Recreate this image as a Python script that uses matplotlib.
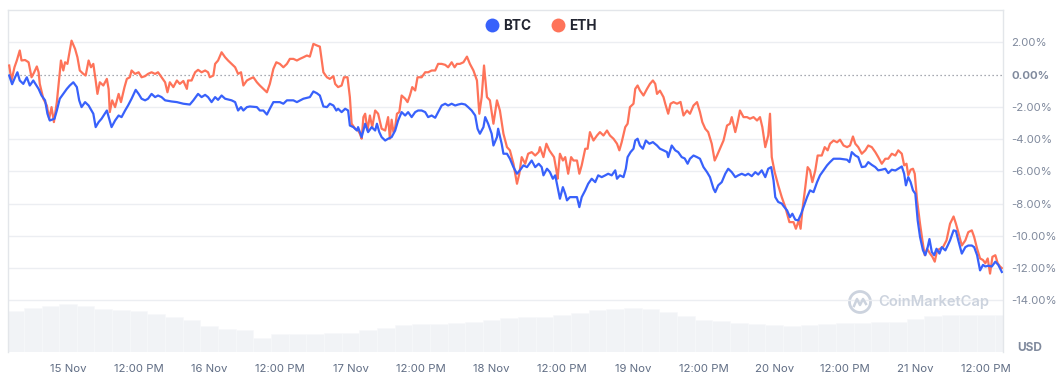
import numpy as np
import matplotlib
matplotlib.use("Agg")
import matplotlib.pyplot as plt
from matplotlib.lines import Line2D
from matplotlib.patches import Ellipse

# ---------------- data ----------------
# hours relative to 15 Nov 00:00
btc_t = [-10.0, -9.5, -9.0, -8.6, -8.2, -7.6, -7.0, -6.5, -5.9, -5.0, -4.5, -3.9, -3.5, -3.1, -2.3, -1.9,
         -1.4, -0.8, -0.2, 0.3, 0.9, 1.5, 1.9, 2.3, 2.9, 3.5, 4.3, 4.7, 5.2, 5.7, 6.6, 7.0, 7.4, 8.0, 8.6,
         9.1, 9.7, 10.2, 10.8, 11.5, 12.0, 12.5, 13.1, 13.6, 14.2, 14.8, 15.3, 15.9, 16.5, 17.6,
         18.5, 19.6, 20.7, 21.3, 22.1, 22.7, 23.3, 23.8, 24.4, 25.0, 25.5, 26.1, 26.7, 27.8, 28.4, 28.9,
         29.4, 29.8, 30.4, 30.9, 32.1, 32.6, 33.2, 33.8, 34.3, 34.9, 36.0, 36.6, 37.2, 38.3, 38.9, 40.0,
         41.1, 41.7, 42.3, 42.8, 43.4, 44.0, 44.5, 45.1, 45.6,
         45.9, 46.5, 47.1, 47.6, 47.9, 48.5, 49.1, 49.3, 49.9, 50.5, 51.0, 51.6, 52.2, 52.5, 52.9, 53.3,
         53.9, 54.4, 55.0, 55.6, 56.1, 56.7, 57.3, 57.8, 58.4, 59.0, 59.5, 60.1, 60.7, 61.2, 61.8, 62.4,
         62.9, 63.5, 64.1, 64.6, 65.2, 65.8, 66.3, 66.9, 67.5, 68.0, 68.6, 69.2, 69.6, 70.0, 70.6, 70.9,
         71.4, 72.0, 72.3, 72.9, 73.1, 73.7, 74.0,
         74.6, 75.1, 75.7, 76.3, 76.8, 77.4, 78.0, 78.8, 79.4, 80.0, 80.5, 80.8, 81.4, 81.9, 82.4, 82.8,
         83.2, 83.6, 84.1, 84.5, 84.8, 85.3, 86.5, 86.9, 87.3, 87.9, 88.4, 89.0, 89.6, 90.1, 90.7, 91.3,
         91.8, 92.4, 93.0, 93.3, 93.8, 94.4, 94.8, 95.1, 95.6, 96.1, 96.4, 96.8, 97.2, 97.7, 98.2, 98.8,
         99.4, 100.1, 100.6, 101.2, 101.8, 102.0,
         102.6, 103.2, 103.7, 104.3, 104.8, 105.3, 105.7, 106.3, 106.9, 107.4, 108.0, 108.6, 109.1, 109.7,
         110.0, 110.5, 111.1, 111.7, 112.2, 112.8, 113.4, 113.9, 114.5, 115.1, 115.6, 116.2, 116.8, 117.3,
         117.9, 118.5, 119.0, 119.5, 119.9, 120.2, 120.7, 121.3, 121.7, 122.2, 122.7, 123.1, 123.6, 124.1,
         124.6, 125.0, 125.6, 126.1, 126.7, 127.3, 127.8, 128.4, 129.0, 129.5,
         130.1, 131.2, 132.4, 132.8, 133.2, 133.8, 134.3, 134.9, 135.5, 136.0, 136.6, 137.2, 137.7, 138.3,
         138.9, 139.4, 140.0, 140.6, 141.1, 141.7, 142.1, 142.4, 142.8, 143.2, 143.6, 144.0, 144.4, 144.8,
         145.3, 145.7, 146.1, 146.4, 146.8, 147.2, 147.6, 148.1, 148.5, 149.1, 149.5, 149.9, 150.5, 150.9,
         151.3, 151.9, 152.5, 153.0, 153.6, 154.0, 154.5, 155.0, 155.5, 155.9, 156.4, 157.0, 157.6, 158.1,
         158.7]
btc_v = [-0.06, -0.6, -0.17, 0.14, -0.37, -0.58, -0.17, -0.68, -0.37, -0.89, -1.3, -1.6, -2.43, -2.85, -2.74, -2.23,
         -1.5, -1.2, -0.89, -0.68, -0.48, -0.78, -1.6, -2.02, -1.71, -1.92, -2.43, -3.26, -2.95, -2.74, -2.23, -2.74, -3.26, -2.85, -2.54,
         -2.64, -2.23, -1.92, -1.5, -0.95, -1.2, -1.5, -1.6, -1.5, -1.2, -1.4, -1.3, -1.4, -1.6, -1.67,
         -1.71, -1.81, -1.86, -1.6, -1.2, -1.4, -1.26, -1.4, -1.71, -1.4, -1.57, -1.3, -1.5, -1.6, -1.71, -2.23,
         -2.02, -2.23, -2.02, -1.98, -2.02, -2.23, -2.23, -2.48, -2.12, -1.71, -1.71, -1.81, -1.6, -1.6, -1.71, -1.5,
         -1.4, -1.05, -1.16, -1.3, -1.98, -2.02, -1.81, -1.92, -2.23,
         -2.12, -2.33, -2.12, -2.23, -3.16, -3.26, -3.47, -3.26, -3.88, -3.05, -3.57, -3.26, -3.47, -3.05, -3.57, -3.88,
         -4.09, -3.98, -3.88, -3.47, -2.85, -2.33, -2.54, -2.33, -2.64, -2.33, -2.23, -2.23, -2.33, -2.64, -2.54, -2.68,
         -2.33, -1.92, -1.81, -1.92, -1.81, -1.92, -1.86, -1.81, -1.86, -2.02, -2.23, -2.54, -3.36, -3.67, -3.26, -2.64,
         -3.05, -3.67, -4.4, -3.88, -3.36, -4.29, -4.91,
         -4.91, -5.22, -5.74, -6.15, -5.94, -5.63, -5.74, -5.33, -5.74, -5.53, -5.74, -6.25, -5.84, -6.05, -6.46, -6.25,
         -6.98, -7.7, -6.98, -7.39, -7.8, -7.6, -7.6, -8.22, -7.6, -7.18, -6.77, -6.46, -6.67, -6.25, -6.36, -6.25,
         -6.15, -6.25, -5.94, -6.46, -6.25, -6.36, -5.84, -5.12, -4.81, -4.6, -4.09, -3.98, -4.4, -4.6, -4.09, -4.29,
         -4.19, -4.4, -4.6, -4.7, -4.81, -5.12,
         -4.4, -4.7, -4.81, -5.12, -5.2, -5.53, -5.22, -5.02, -5.12, -5.22, -5.74, -6.05, -6.36, -7.08,
         -7.29, -6.87, -6.67, -6.15, -5.84, -6.05, -6.36, -6.25, -6.15, -6.25, -6.15, -6.3, -6.05, -6.2,
         -5.94, -6.36, -5.84, -5.74, -6.56, -7.6, -7.9, -8.0, -8.2, -8.42, -8.84, -8.63, -9.0, -9.04,
         -8.63, -8.22, -7.6, -7.18, -7.29, -6.67, -6.25, -5.94, -5.63, -5.43,
         -5.22, -5.22, -5.28, -5.43, -4.81, -5.02, -5.12, -5.74, -5.7, -5.43, -5.6, -5.74, -5.94, -5.9,
         -5.84, -6.11, -5.9, -5.95, -5.84, -5.7, -6.15, -6.87, -6.36, -6.67, -7.18, -7.39, -9.04, -10.07,
         -10.9, -11.2, -10.7, -10.2, -11.0, -11.2, -10.8, -11.1, -10.7, -10.9, -10.6, -10.28, -9.66, -9.7,
         -10.28, -11.1, -10.7, -10.6, -10.6, -10.7, -11.2, -12.14, -11.8, -11.9, -11.85, -11.9, -11.6, -11.8,
         -12.24]

eth_t = [-10.0, -9.6, -9.1, -8.7, -8.2, -7.9, -7.3, -6.7, -6.2, -5.8, -5.3, -5.0, -4.8, -4.2, -3.6, -3.2,
         -2.8, -2.4, -1.9, -1.5, -1.2, -0.8, -0.5, -0.1, 0.2, 0.6, 1.2, 1.6, 2.0, 2.6, 3.0, 3.5, 3.9, 4.3,
         4.7, 5.0, 5.4, 6.0, 6.6, 6.9, 7.1, 7.5, 8.0, 8.6, 9.0, 9.6, 10.0, 10.5, 10.8, 11.4, 12.0, 12.5,
         13.1, 13.6, 14.2, 14.8, 15.3, 15.9, 16.5, 16.9, 17.3, 17.9, 18.5, 19.0, 19.6, 20.2, 20.4, 21.0,
         21.6, 22.1, 22.7, 23.3, 23.8, 24.1, 24.7, 25.0, 25.5, 26.1, 26.7, 27.2, 27.8, 28.4, 28.9, 29.4,
         29.8, 30.4, 30.9, 31.5, 32.1, 32.6, 33.2, 33.8, 34.3, 34.9, 35.4, 36.0, 36.6, 37.2, 37.7, 38.3,
         38.9, 39.4, 40.0, 40.6, 41.1, 41.7, 42.3, 42.8, 43.4, 44.0, 44.5, 45.1, 45.4,
         45.9, 46.5, 46.9, 47.5, 47.9, 48.2, 48.8, 49.3, 49.6, 49.9, 50.2, 50.5, 50.9, 51.3, 51.7, 52.2,
         52.7, 53.3, 53.9, 54.4, 54.7, 55.0, 55.3, 55.6, 55.9, 56.3, 56.7, 57.3, 57.7, 58.1, 58.5, 59.0,
         59.4, 60.1, 60.7, 61.2, 61.8, 62.4, 62.9, 63.5, 64.1, 64.6, 65.2, 65.7, 66.1, 66.6, 67.2, 67.8,
         68.3, 68.9, 69.5, 69.9, 70.3, 70.7, 71.2, 71.7, 72.3, 72.9, 73.4, 74.0,
         74.6, 75.1, 75.7, 76.3, 76.7, 77.1, 77.7, 78.2, 78.8, 79.4, 80.0, 80.2, 80.8, 81.3, 81.8, 82.2,
         82.6, 83.0, 83.2, 83.6, 84.1, 84.5, 85.0, 85.5, 85.9, 86.5, 86.9, 87.3, 87.9, 88.3, 88.7, 89.3,
         89.9, 90.4, 91.0, 91.6, 92.1, 92.7, 93.3, 93.7, 94.1, 94.7, 95.1, 95.5, 96.1, 96.4, 96.8, 97.2,
         97.8, 98.4, 98.9, 99.4, 99.8, 100.1, 100.6, 101.2, 101.5, 102.0,
         102.4, 102.9, 103.5, 104.1, 104.6, 105.2, 105.7, 106.3, 106.9, 107.4, 107.8, 108.3, 108.8, 109.4,
         109.9, 110.3, 110.8, 111.4, 112.0, 112.5, 112.8, 113.4, 113.8, 114.2, 114.8, 115.4, 115.9, 116.5,
         117.1, 117.6, 118.0, 118.5, 119.0, 119.3, 119.6, 120.1, 120.7, 121.3, 121.9, 122.6, 123.3, 123.7,
         124.2, 124.5, 124.8, 125.3, 125.7, 126.1, 126.5, 127.0, 127.4, 128.1, 128.6, 129.1, 129.5,
         130.1, 130.7, 131.2, 131.8, 132.4, 132.9, 133.4, 133.8, 134.3, 134.9, 135.5, 136.0, 136.6, 137.2,
         137.7, 138.3, 138.9, 139.4, 140.0, 140.6, 141.1, 141.7, 142.1, 142.5, 142.8, 143.2, 143.6, 143.9,
         144.3, 144.8, 145.2, 145.6, 146.0, 146.5, 146.9, 147.3, 147.7, 148.2, 148.7, 149.3, 149.9, 150.5,
         150.9, 151.3, 151.9, 152.5, 153.0, 153.6, 154.0, 154.5, 155.0, 155.5, 155.9, 156.3, 156.7, 157.1,
         157.6, 158.0, 158.4, 158.7]
eth_v = [0.56, -0.37, 0.45, 0.87, 1.49, 0.87, 0.9, 0.76, -0.17, 0.1, 0.5, 0.14, -0.58, -1.5, -1.92, -2.74,
         -2.02, -2.95, -1.71, -0.27, 0.87, 0.25, 0.76, 0.66, 1.28, 2.1, 1.59, 1.07, 0.25, 0.04, -0.06, 0.87, 0.45, 0.66,
         -0.37, -1.2, -0.48, -0.68, -0.27, -0.9, -2.33, -1.6, -2.02, -1.2, -1.71, -0.78, -0.27, -0.17, 0.25, 0.04, 0.14, -0.17,
         -0.1, 0.04, 0.14, 0.04, 0.14, -0.17, -0.48, -1.1, -0.48, -0.78, -0.37, -0.58, -0.4, -0.89, -0.37, -0.37,
         0.14, 0.29, 0.14, 0.25, 0.14, -0.17, -0.06, 0.66, 0.87, 1.38, 1.07, 0.87, 0.66, 0.45, 0.04, 0.14,
         -0.68, -0.37, -0.27, -0.17, -0.48, -0.68, -0.89, -1.1, -0.58, 0.35, 0.76, 0.66, 0.45, 0.66, 0.97, 0.97,
         0.87, 0.97, 1.07, 1.18, 1.11, 1.9, 1.8, 1.73, 0.14, -0.17, -0.27, -0.1, -0.58,
         -0.78, -0.68, -0.17, -0.17, -1.4, -3.05, -3.36, -3.47, -3.67, -3.98, -2.64, -2.43, -3.47, -2.54, -3.26, -2.23,
         -2.43, -3.36, -3.47, -2.64, -3.98, -2.8, -3.57, -3.26, -2.43, -2.33, -1.3, -1.5, -1.71, -1.3, -0.78, -0.99,
         -0.17, -0.17, 0.14, 0.14, 0.25, 0.25, 0.66, 0.66, 0.6, 0.45, 0.76, 0.45, 0.66, 0.66, 0.76, 1.11,
         0.66, 0.25, -0.37, -2.43, -1.4, 0.56, -1.4, -1.6, -3.05, -1.6, -2.23, -3.67,
         -4.5, -4.7, -5.53, -6.77, -6.15, -5.12, -5.53, -4.91, -4.81, -5.02, -4.8, -4.5, -5.12, -4.29, -4.7, -4.91,
         -5.12, -5.94, -6.46, -4.91, -5.33, -5.12, -6.15, -5.12, -5.33, -5.33, -6.15, -5.63, -4.6, -4.6, -3.57, -4.09,
         -3.78, -3.57, -3.78, -3.47, -3.78, -3.98, -4.29, -4.7, -4.19, -3.26, -3.05, -2.02, -1.81, -0.89, -0.68, -0.99,
         -1.3, -0.89, -0.58, -0.37, -0.58, -1.2, -1.0, -1.4, -1.81, -2.43,
         -1.81, -1.71, -1.81, -1.7, -2.54, -2.23, -2.43, -1.92, -1.71, -2.33, -2.95, -3.36, -3.57, -4.29,
         -5.33, -5.02, -4.6, -4.09, -3.16, -3.05, -2.64, -3.57, -2.95, -2.23, -2.64, -2.64, -2.74, -2.64,
         -2.85, -2.64, -3.26, -4.5, -3.78, -2.43, -5.12, -6.05, -6.87, -7.6, -8.22, -9.15, -9.15, -9.56,
         -9.04, -9.56, -8.42, -6.98, -5.74, -5.94, -6.67, -5.94, -5.02, -5.02, -4.5, -4.7, -4.29,
         -4.09, -4.2, -4.04, -4.4, -4.5, -4.4, -3.84, -4.29, -4.5, -4.91, -4.7, -4.4, -4.5, -4.81,
         -5.12, -5.53, -5.22, -5.22, -4.91, -5.02, -4.7, -4.91, -5.63, -5.53, -6.25, -5.9, -5.84, -6.15,
         -7.8, -9.25, -10.28, -11.2, -10.8, -11.1, -11.3, -11.6, -10.9, -10.8, -10.7, -10.28, -9.25, -8.8,
         -9.25, -9.77, -10.6, -10.28, -9.77, -9.66, -10.07, -10.8, -11.4, -11.5, -11.7, -11.4, -12.34, -11.3,
         -11.2, -11.7, -11.9, -12.0]

# volume (relative units), one bar every 3 hours starting at -9 h
vol_t = list(range(-9, 160, 3))
vol_v = [41, 44, 46, 48, 46, 43, 42, 41, 38, 35, 32, 26, 23, 22, 14, 18, 18, 18, 19, 19,
         22, 24, 27, 28, 28, 29, 30, 32, 34, 35, 35, 37, 39, 42, 43, 44, 43, 40, 36, 32,
         31, 29, 28, 27, 26, 27, 28, 29, 29, 30, 30, 33, 36, 37, 37, 37, 37]

x_ticks = [0, 12, 24, 36, 48, 60, 72, 84, 96, 108, 120, 132, 144, 156]
x_labels = ["15 Nov", "12:00 PM", "16 Nov", "12:00 PM", "17 Nov", "12:00 PM", "18 Nov",
            "12:00 PM", "19 Nov", "12:00 PM", "20 Nov", "12:00 PM", "21 Nov", "12:00 PM"]
y_ticks = [2, 0, -2, -4, -6, -8, -10, -12, -14]
y_labels = ["2.00%", "0.00%", "-2.00%", "-4.00%", "-6.00%", "-8.00%", "-10.00%", "-12.00%", "-14.00%"]

series_names = ["BTC", "ETH"]
colors = ["#3861fb", "#fe7359"]

# ---------------- figure ----------------
plt.rcParams['font.family'] = ['Inter', 'DejaVu Sans']
W, H = 1062, 387
fig = plt.figure(figsize=(W / 100, H / 100), dpi=100)
L, R, T, B = 8, 1003, 10, 352
ax = fig.add_axes([L / W, 1 - B / H, (R - L) / W, (B - T) / H])
ax.set_xlim(-10.2, 158.9)
ax.set_ylim(-17.2, 4.0)

# volume background
axv = ax.twinx()
axv.set_ylim(0, 342)
axv.bar(vol_t, vol_v, width=3.0, color="#f1f3f6", edgecolor="#f8f9fb", linewidth=0.4, zorder=0)
axv.set_yticks([])
axv.set_zorder(0)
ax.set_zorder(1)
ax.patch.set_visible(False)
for s in axv.spines.values():
    s.set_visible(False)

# grid
for yv in y_ticks:
    if yv == 0:
        ax.axhline(0, color="#8a8f99", lw=0.9, ls=(0, (1, 2.2)), zorder=1)
    else:
        ax.axhline(yv, color="#eceef2", lw=1.0, zorder=1)

ax.plot(eth_t, eth_v, color=colors[1], lw=1.6, zorder=3, solid_joinstyle="round")
ax.plot(btc_t, btc_v, color=colors[0], lw=1.6, zorder=4, solid_joinstyle="round")

# spines
for k in ["top", "left", "right"]:
    ax.spines[k].set_color("#e3e6ea")
    ax.spines[k].set_linewidth(1.0)
ax.spines["bottom"].set_visible(False)

# ticks
ax.set_xticks(x_ticks)
ax.set_xticklabels(x_labels, fontsize=8.2, color="#616e85")
ax.tick_params(axis="x", length=0, pad=9)
ax.yaxis.tick_right()
ax.set_yticks(y_ticks)
ax.set_yticklabels(y_labels, fontsize=8.2, color="#808a9d")
ax.tick_params(axis="y", length=0, pad=6)
for lab in ax.get_yticklabels():
    if lab.get_text() == "0.00%":
        lab.set_fontweight("bold")

fig.text(1017 / W, 1 - 348 / H, "USD", fontsize=8.5, fontweight="bold", color="#808a9d",
         ha="left", va="center")

# legend
handles = [Line2D([], [], marker="o", ls="none", markersize=10, color=c, markeredgewidth=0) for c in colors]
leg = ax.legend(handles, series_names, loc="center", bbox_to_anchor=((541 - L) / (R - L), (B - 26) / (B - T)),
                ncol=2, frameon=False, fontsize=9.8, handletextpad=0.3, columnspacing=1.5,
                borderaxespad=0, handlelength=1.0)
for t in leg.get_texts():
    t.set_color("#222531")
    t.set_fontweight("bold")

# watermark (logo drawn as a shape)
wm = "#ccd3de"
cx, cy, r = 860, 302, 10.5
fig.add_artist(Ellipse((cx / W, 1 - cy / H), 2 * r / W, 2 * r / H, transform=fig.transFigure, fill=False,
                       edgecolor=wm, linewidth=2.0))
fig.add_artist(Line2D([(cx - 6) / W, (cx - 3) / W, cx / W, (cx + 3) / W, (cx + 6) / W],
                      [1 - (cy + 4) / H, 1 - (cy - 3) / H, 1 - (cy + 3) / H, 1 - (cy - 3) / H, 1 - (cy + 2) / H],
                      transform=fig.transFigure, color=wm, lw=1.8, solid_joinstyle="round"))
fig.text(878 / W, 1 - 302 / H, "CoinMarketCap", fontsize=10.6, fontweight="semibold", color=wm,
         ha="left", va="center")

fig.savefig("out.png", dpi=100, facecolor="white")
